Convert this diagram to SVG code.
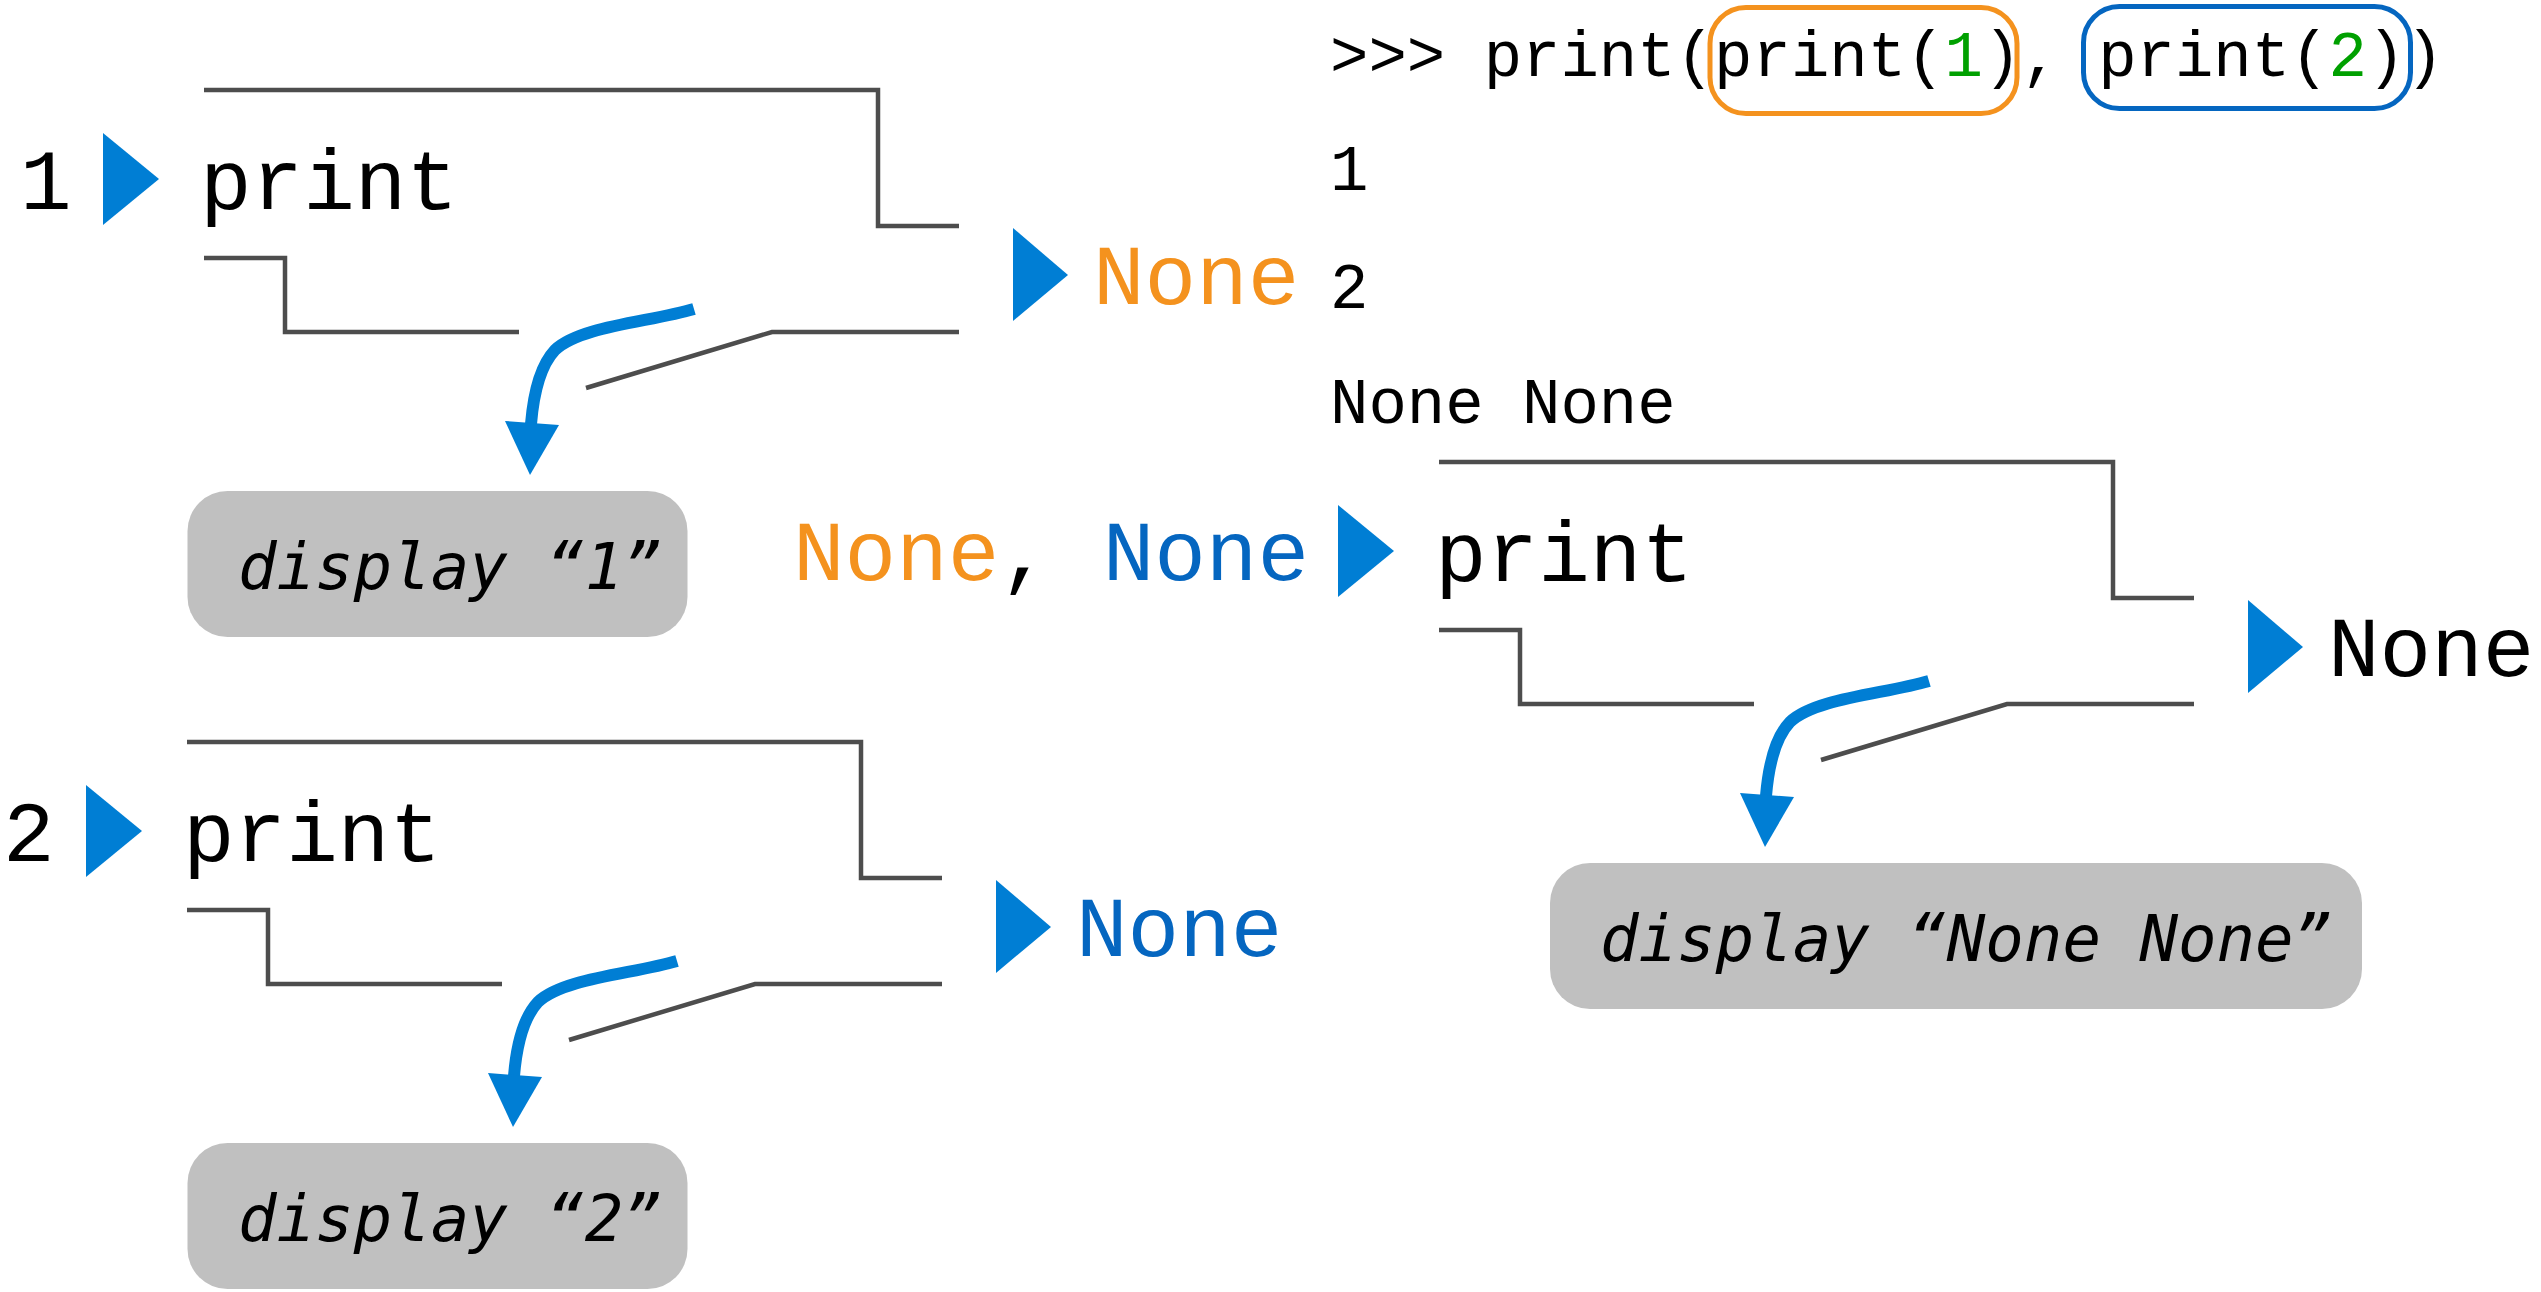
<svg xmlns="http://www.w3.org/2000/svg" xmlns:xlink="http://www.w3.org/1999/xlink" width="2541" height="1292" viewBox="0 0 2541 1292">
<style>
.mono{font-family:"Liberation Mono","Courier New",monospace;}
.big{font-size:86px;}
.code{font-size:64px;}
.disp{font-family:"DejaVu Sans Mono",Menlo,monospace;font-style:italic;font-size:64px;fill:#000;}
.br{fill:none;stroke:#4d4d4d;stroke-width:4.5;stroke-linejoin:miter;stroke-linecap:butt;}
.flow{fill:none;stroke:#007ed4;stroke-width:12;stroke-linecap:butt;}
.tri{fill:#007ed4;}
.box{fill:#c0c0c0;}
.org{fill:#f4921e;}
.blu{fill:#0566c0;}
.grn{fill:#00a000;}
</style>
<defs>
<g id="bracket">
<path class="br" d="M204,90 H878 V226 H959"/>
<path class="br" d="M204,258 H285 V332 H519"/>
<path class="br" d="M586,388 L772,332 H959"/>
<path class="flow" d="M694,309 C650,322 580,326 555,350 C538,368 533,400 531,424"/>
<polygon class="tri" points="505,421 559,425 530,475"/>
</g>
<polygon id="inTri" class="tri" points="103,133 159,179 103,225"/>
<polygon id="outTri" class="tri" points="1013,228 1068,275 1013,321"/>
</defs>

<g id="connectors">
<use xlink:href="#bracket"/>
<use xlink:href="#bracket" transform="translate(-17,652)"/>
<use xlink:href="#bracket" transform="translate(1235,372)"/>
</g>

<g id="call1">
<text class="mono big" x="20" y="209">1</text>
<use xlink:href="#inTri"/>
<text class="mono big" x="200" y="209">print</text>
<use xlink:href="#outTri"/>
<text class="mono big org" x="1093" y="304">None</text>
</g>

<g id="display1">
<rect class="box" x="187.5" y="491" width="500" height="146" rx="40"/>
<text class="disp" x="238" y="589">display “1”</text>
</g>

<g id="call2" transform="translate(-17,652)">
<text class="mono big" x="20" y="209">2</text>
<use xlink:href="#inTri"/>
<text class="mono big" x="200" y="209">print</text>
<use xlink:href="#outTri"/>
<text class="mono big blu" x="1093" y="304">None</text>
</g>

<g id="display2">
<rect class="box" x="187.5" y="1143" width="500" height="146" rx="40"/>
<text class="disp" x="238" y="1241">display “2”</text>
</g>

<g id="args3">
<text class="mono big" x="793" y="580"><tspan class="org">None</tspan>, <tspan class="blu">None</tspan></text>
</g>

<g id="call3" transform="translate(1235,372)">
<use xlink:href="#inTri"/>
<text class="mono big" x="200" y="209">print</text>
<use xlink:href="#outTri"/>
<text class="mono big" x="1093" y="304">None</text>
</g>

<g id="display3">
<rect class="box" x="1550" y="863" width="812" height="146" rx="40"/>
<text class="disp" x="1600" y="961">display “None None”</text>
</g>

<g id="code">
<rect x="1710" y="7.5" width="307" height="106" rx="36" fill="none" stroke="#f4921e" stroke-width="5"/>
<rect x="2083.5" y="6.5" width="327" height="102" rx="36" fill="none" stroke="#0566c0" stroke-width="5"/>
<text class="mono code" x="1330" y="76">&gt;&gt;&gt; print(print(<tspan class="grn">1</tspan>), print(<tspan class="grn">2</tspan>))</text>
<text class="mono code" x="1330" y="190">1</text>
<text class="mono code" x="1330" y="308">2</text>
<text class="mono code" x="1330" y="423">None None</text>
</g>
</svg>
